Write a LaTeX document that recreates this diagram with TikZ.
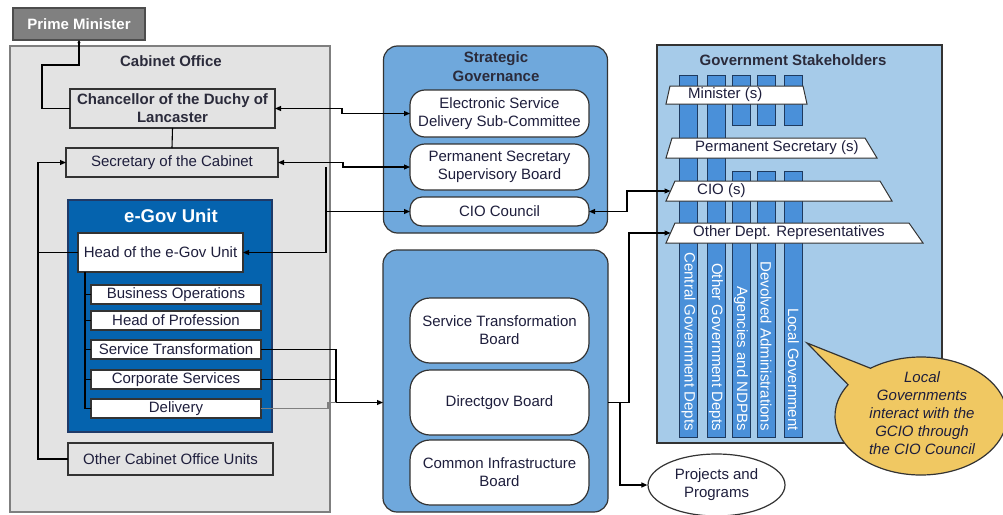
\documentclass[tikz,border=0pt]{standalone}
\usepackage{fontspec}
\setmainfont{Liberation Sans}
\usetikzlibrary{arrows.meta,shapes.geometric,shapes.callouts}
\definecolor{txt}{HTML}{1E1E3C}
\definecolor{ttlc}{HTML}{2B2B3B}
\definecolor{cabfill}{HTML}{E3E3E3}
\definecolor{cabdk}{HTML}{7F7F7F}
\definecolor{dk}{HTML}{333333}
\definecolor{pmfill}{HTML}{808080}
\definecolor{pmdk}{HTML}{4D4D4D}
\definecolor{egfill}{HTML}{0563AE}
\definecolor{egdk}{HTML}{1F3A68}
\definecolor{sgfill}{HTML}{6FA8DC}
\definecolor{gsfill}{HTML}{A6CBE9}
\definecolor{barfill}{HTML}{4A90D9}
\definecolor{bardk}{HTML}{1E3A5F}
\definecolor{bubfill}{HTML}{F0C862}
\begin{document}
\begin{tikzpicture}[x=1pt,y=-1pt,font=\fontsize{15}{18}\selectfont,
  >={Triangle[length=6pt,width=5pt]},
  sz/.style 2 args={minimum width=#1pt,minimum height=#2pt},
  mybase/.style={inner sep=0pt, outer sep=0pt, align=center, text=txt, line width=1.2pt},
  graybox/.style={mybase, draw=dk, fill=cabfill},
  whitebox/.style={mybase, draw=dk, fill=white},
  roundbox/.style={whitebox, rounded corners=15pt},
  panel/.style={mybase, draw=dk, fill=sgfill, rounded corners=14pt},
  conn/.style={draw=black, line width=1.1pt},
  myttl/.style={font=\fontsize{15}{19}\selectfont\bfseries, text=ttlc, align=center, inner sep=0pt},
  mybar/.style={draw=bardk, fill=barfill, line width=1pt, inner sep=0pt},
  mytrap/.style={draw=dk, fill=white, line width=1pt},
  traptext/.style={anchor=west, text=txt, inner sep=0pt},
  bartext/.style={rotate=-90, anchor=east, text=white, inner sep=0pt},
]
\useasboundingbox (0,0) rectangle (1003,514);

% ---------- Cabinet Office ----------
\node[graybox, draw=cabdk, line width=1.8pt, sz={320}{466}] (cab) at (170,279) {};
\node[myttl] (cabt) at (171,61) {Cabinet Office};
\node[mybase, draw=pmdk, fill=pmfill, line width=2pt, sz={132}{32}, text=white,
      font=\fontsize{15}{18}\selectfont\bfseries] (pm) at (79,24) {Prime Minister};
\node[graybox, sz={205}{39}, text=ttlc, font=\fontsize{15}{18}\selectfont\bfseries]
      (chan) at (172.5,108.5) {Chancellor of the Duchy of\\Lancaster};
\node[graybox, sz={212}{29}] (sec) at (172,162.5) {Secretary of the Cabinet};
\node[mybase, draw=egdk, fill=egfill, sz={204}{232}] (egov) at (170,316) {};
\node[myttl, text=white, font=\fontsize{18.5}{22}\selectfont\bfseries] (egt) at (171,216) {e-Gov Unit};
\node[whitebox, sz={165}{39}] (head) at (160.5,252.5) {Head of the e-Gov Unit};
\node[whitebox, sz={170}{19}] (bo)  at (176,294.5) {Business Operations};
\node[whitebox, sz={170}{19}] (hop) at (176,320.5) {Head of Profession};
\node[whitebox, sz={170}{19}] (st)  at (176,349.5) {Service Transformation};
\node[whitebox, sz={170}{19}] (cs)  at (176,379.5) {Corporate Services};
\node[whitebox, sz={170}{19}] (del) at (176,408.5) {Delivery};
\node[graybox, sz={205}{32}] (ocu) at (170.5,459) {Other Cabinet Office Units};

% ---------- Strategic Governance ----------
\node[panel, sz={224}{187}] (sg) at (495.5,139.5) {};
\node[myttl] (sgt) at (496,66.5) {Strategic\\Governance};
\node[roundbox, sz={179}{47}] (esd) at (499.5,113.5) {Electronic Service\\Delivery Sub-Committee};
\node[roundbox, sz={179}{46}] (pssb) at (499.5,167) {Permanent Secretary\\Supervisory Board};
\node[roundbox, sz={179}{29}, rounded corners=12pt] (cioc) at (499.5,211.5) {CIO Council};

% ---------- Lower panel ----------
\node[panel, sz={225}{262}] (lo) at (495.5,381) {};
\node[roundbox, sz={179}{65}, rounded corners=20pt] (stb) at (499.5,330.5) {Service Transformation\\Board};
\node[roundbox, sz={179}{65}, rounded corners=20pt] (dgb) at (499.5,402.5) {Directgov Board};
\node[roundbox, sz={179}{65}, rounded corners=20pt] (cib) at (499.5,472.5) {Common Infrastructure\\Board};

% ---------- Government Stakeholders ----------
\node[mybase, draw=dk, fill=gsfill, sz={285}{398}] (gs) at (799.5,244) {};
\node[myttl] (gst) at (793,60) {Government Stakeholders};
\node[mybar, sz={18}{362}] (b1) at (688.5,256) {};
\node[mybar, sz={18}{362}] (b2) at (716,256) {};
\node[mybar, sz={18}{50}] (b3a) at (741,100) {};
\node[mybar, sz={18}{266}] (b3b) at (741,304) {};
\node[mybar, sz={18}{50}] (b4a) at (766,100) {};
\node[mybar, sz={18}{266}] (b4b) at (766,304) {};
\node[mybar, sz={18}{50}] (b5a) at (793.5,100) {};
\node[mybar, sz={18}{266}] (b5b) at (793.5,304) {};
\node[bartext] (t1) at (688.5,431) {Central Government Depts};
\node[bartext] (t2) at (716,431) {Other Government Depts};
\node[bartext] (t3) at (741,431) {Agencies and NDPBs};
\node[bartext] (t4) at (766,431) {Devolved Administrations};
\node[bartext] (t5) at (793.5,431) {Local Government};

\draw[mytrap] (670,86) -- (803,86) -- (807,104) -- (666,104) -- cycle;
\node[traptext] (mins) at (688,95) {Minister (s)};
\draw[mytrap] (672,138) -- (865,138) -- (877,158) -- (666,158) -- cycle;
\node[traptext] (perms) at (695,148) {Permanent Secretary (s)};
\draw[mytrap] (675,181) -- (880,181) -- (892,201) -- (666,201) -- cycle;
\node[traptext] (cios) at (697,191) {CIO (s)};
\draw[mytrap] (675,223) -- (909,223) -- (923,243) -- (666,243) -- cycle;
\node[traptext] (oth) at (693,233) {Other Dept. Representatives};
\coordinate (cioL) at (670.5,191);
\coordinate (othL) at (670.5,233);

% ---------- Callout & ellipse ----------
\node[ellipse callout, draw=dk, fill=bubfill, line width=1.2pt, sz={172}{118}, inner sep=0pt,
      callout absolute pointer={(807,343)}, callout pointer arc=22] (bub) at (921,416) {};
\node[font=\fontsize{15}{18}\selectfont\itshape, align=center, text=txt, inner sep=0pt]
      (bubt) at (922,413) {Local\\Governments\\interact with the\\GCIO through\\the CIO Council};
\node[ellipse, draw=dk, fill=white, line width=1.2pt, sz={137}{62}, inner sep=0pt, align=center, text=txt]
      (proj) at (716.5,485) {Projects and\\Programs};

% ---------- Connectors ----------
\coordinate (xa) at (42,65);
\coordinate (xl) at (38,0);
\coordinate (xt) at (85,0);
\coordinate (xv) at (326,0);
\coordinate (xs) at (336,0);
\coordinate (xd) at (328,0);
\coordinate (xc) at (627,0);
\coordinate (xo) at (629,0);
\coordinate (xp) at (620,0);

\draw[conn, -{Triangle[length=3pt,width=3pt]}] (chan.west) -| (xa) -| (pm.south);
\draw[conn] (chan.south) -- (sec.north);
\draw[conn, ->] (ocu.west) -| (xl |- sec.west) -- (sec.west);
\draw[conn] (xl |- head.west) -- (head.west);
\draw[conn] (xt |- head.south) |- (del.west);
\foreach \b in {bo,hop,st,cs} \draw[conn] (xt |- \b.west) -- (\b.west);

\draw[conn, <->] (chan.east) -- ++(67,0) |- (esd.west);
\draw[conn, <->] (sec.east) -- ++(65,0) |- (pssb.west);
\draw[conn, ->] (xv |- pssb.west) |- (head.east);
\draw[conn, ->] (xv |- cioc.west) -- (cioc.west);

\draw[conn] (st.east) -| (xs |- dgb.west);
\draw[conn] (cs.east) -- (xs |- cs.east);
\draw[conn, draw=gray] (del.east) -| (xd |- dgb.west) -- (xs |- dgb.west);
\draw[conn, ->] (xs |- dgb.west) -- (lo.west |- dgb.west);

\draw[conn, <->] (cioc.east) -- (xc |- cioc.east) |- (cioL);
\draw[conn, ->] (lo.east |- dgb.east) -| (xo |- othL) -- (othL);
\draw[conn, ->] (xp |- dgb.east) |- (proj.west);
\end{tikzpicture}
\end{document}
